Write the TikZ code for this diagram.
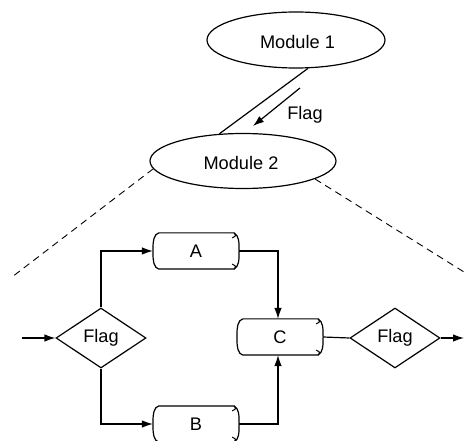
\documentclass[tikz,border=0pt]{standalone}
\usepackage{fontspec}
\setmainfont{Liberation Sans}
\usetikzlibrary{shapes.geometric,arrows.meta}
\tikzset{
  txt/.style={font=\fontsize{18.2}{21}\selectfont, inner sep=0pt},
  modellipse/.style={ellipse, draw, inner sep=0pt},
  decbox/.style={diamond, draw, inner sep=0pt, minimum width=90pt, minimum height=60pt, font=\fontsize{18.2}{21}\selectfont},
  procbox/.style={rectangle, inner sep=0pt, minimum width=85pt, minimum height=35pt, font=\fontsize{18.2}{21}\selectfont},
  arr/.style={-{Latex[length=11pt,width=7.5pt]}},
  dashln/.style={line width=0.9pt, dash pattern=on 7pt off 5pt},
}
\begin{document}
\begin{tikzpicture}[x=1pt,y=-1pt,line width=1.2pt]
\useasboundingbox (0,0) rectangle (464,441);
% modules
\node[modellipse, minimum width=178pt, minimum height=56pt] (m1) at (296,40) {};
\node[txt] (m1t) at (297.5,42) {Module 1};
\node[modellipse, minimum width=186pt, minimum height=55pt] (m2) at (243,161) {};
\node[txt] (m2t) at (241,163) {Module 2};
\draw (m1.-67) -- (m2.131);
\coordinate (f1) at (300,88);
\coordinate (f2) at (253,126);
\draw[arr] (f1) -- (f2);
\node[txt] (flagl) at (305,115) {Flag};
% dashed zoom lines
\coordinate (dl) at (12,277);
\coordinate (dr) at (464,272);
\draw[dashln] (m2.185) -- (dl);
\draw[dashln] (m2.-14) -- (dr);
% flowchart
\node[decbox] (d1) at (101,338) {Flag};
\node[decbox] (d2) at (395,338) {Flag};
\node[procbox] (A) at (196,251) {A};
\node[procbox] (B) at (196,424) {B};
\node[procbox] (C) at (280,337) {C};
\foreach \n in {A,B,C}{
  \draw ([xshift=-5pt]\n.north east) -- ([xshift=6pt]\n.north west)
     .. controls ([xshift=1pt,yshift=-1pt]\n.north west) and ([yshift=-8pt]\n.north west) .. (\n.west)
     .. controls ([yshift=8pt]\n.south west) and ([xshift=1pt,yshift=1pt]\n.south west) .. ([xshift=6pt]\n.south west)
     -- ([xshift=-5pt]\n.south east);
  \draw ([xshift=-5pt]\n.north east)
     .. controls ([xshift=0pt,yshift=-3pt]\n.north east) and ([yshift=-9pt]\n.north east) .. (\n.east)
     .. controls ([yshift=9pt]\n.south east) and ([xshift=0pt,yshift=3pt]\n.south east) .. ([xshift=-5pt]\n.south east);
  \draw[line width=1pt] ([xshift=-5pt]\n.north east) .. controls ([xshift=-3pt,yshift=-3pt]\n.north east) .. ([xshift=-7pt,yshift=-5pt]\n.north east);
  \draw[line width=1pt] ([xshift=-5pt]\n.south east) .. controls ([xshift=-3pt,yshift=3pt]\n.south east) .. ([xshift=-7pt,yshift=5pt]\n.south east);
}
\coordinate (in1) at (22,338);
\coordinate (out1) at (464,338);
\draw[arr] (in1) -- (d1.west);
\draw[arr] (d1.north) |- (A.west);
\draw[arr] (d1.south) |- (B.west);
\draw[arr] (A.east) -| ([xshift=-2pt]C.north);
\draw[arr] (B.east) -| ([xshift=-2pt]C.south);
\draw (C.east) -- (d2.west);
\draw[arr] (d2.east) -- (out1);
\end{tikzpicture}
\end{document}
